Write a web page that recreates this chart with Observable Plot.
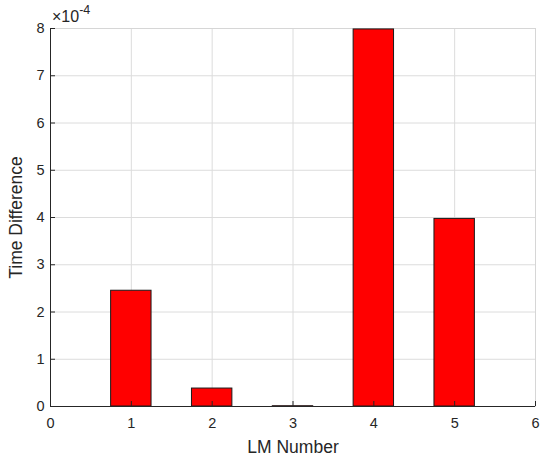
<!DOCTYPE html>
<html>
<head>
<meta charset="utf-8">
<script src="https://cdn.jsdelivr.net/npm/d3@7"></script>
<script src="https://cdn.jsdelivr.net/npm/@observablehq/plot@0.6"></script>
<style>
  html, body { margin: 0; padding: 0; background: #fff; }
  #chart svg { display: block; }
</style>
</head>
<body>
<div id="chart"></div>
<script>
// LM index and measured time difference (seconds)
const lmNumbers = [1, 2, 3, 4, 5];
const timeDiffs = [2.45e-4, 0.38e-4, 0.006e-4, 7.98e-4, 3.97e-4];
const xTicks = [0, 1, 2, 3, 4, 5, 6];
const yTicks = [0, 1e-4, 2e-4, 3e-4, 4e-4, 5e-4, 6e-4, 7e-4, 8e-4];
const exponent = -4;
const xTitle = "LM Number";
const yTitle = "Time Difference";

const barWidth = 0.5;
const data = lmNumbers.map((lm, i) => ({lm, dt: timeDiffs[i]}));
const fmtY = d => String(Math.round(d / Math.pow(10, exponent)));
const blank = () => "";
const ink = "#262626";
const font = "'Liberation Sans', Arial, sans-serif";

const chart = Plot.plot({
  width: 545,
  height: 462,
  marginLeft: 50,
  marginRight: 10,
  marginTop: 28,
  marginBottom: 56,
  style: {fontFamily: font, color: ink, background: "#fff"},
  x: {domain: [0, 6]},
  y: {domain: [0, 8e-4]},
  marks: [
    Plot.gridX(xTicks, {stroke: "#dcdcdc", strokeOpacity: 1}),
    Plot.gridY(yTicks, {stroke: "#dcdcdc", strokeOpacity: 1}),
    Plot.frame({stroke: "#d6d6d6"}),
    Plot.rect(data, {
      x1: d => d.lm - barWidth / 2,
      x2: d => d.lm + barWidth / 2,
      y1: 0,
      y2: "dt",
      fill: "#ff0000",
      stroke: "#1a1a1a",
      strokeWidth: 1
    }),
    Plot.ruleX([0], {stroke: ink}),
    Plot.ruleY([0], {stroke: ink}),
    // inward tick marks
    Plot.axisX(xTicks, {tickSize: 5, dy: -5, tickFormat: blank, label: null, stroke: ink}),
    Plot.axisY(yTicks, {tickSize: 5, dx: 5, tickFormat: blank, label: null, stroke: ink}),
    // tick labels
    Plot.text(xTicks, {
      x: d => d, y: 0, text: d => String(d), frameAnchor: "bottom",
      lineAnchor: "top", dy: 11, fontSize: 14.5, fill: ink
    }),
    Plot.text(yTicks, {
      x: 0, y: d => d, text: fmtY, textAnchor: "end",
      dx: -6, fontSize: 14.5, fill: ink
    }),
    // axis titles
    Plot.axisX(xTicks, {
      tickSize: 0, tickFormat: blank,
      label: xTitle, labelAnchor: "center", labelArrow: "none",
      labelOffset: 46
    }),
    Plot.axisY(yTicks, {
      tickSize: 0, tickFormat: blank,
      label: yTitle, labelAnchor: "center", labelArrow: "none",
      labelOffset: 41
    })
  ]
});

const svg = d3.select(chart);

// axis titles
svg.selectAll("text")
  .filter(function() { return this.textContent === xTitle || this.textContent === yTitle; })
  .style("font-size", "17.5px")
  .attr("fill", ink);

// exponent annotation above the y axis
const ann = svg.append("text")
  .attr("x", 52)
  .attr("y", 22)
  .attr("fill", ink)
  .style("text-anchor", "start")
  .style("font-size", "16px");
ann.append("tspan").text("\u00d710");
ann.append("tspan").attr("dy", -8).style("font-size", "12.5px").text(String(exponent));

document.getElementById("chart").appendChild(chart);
</script>
</body>
</html>
